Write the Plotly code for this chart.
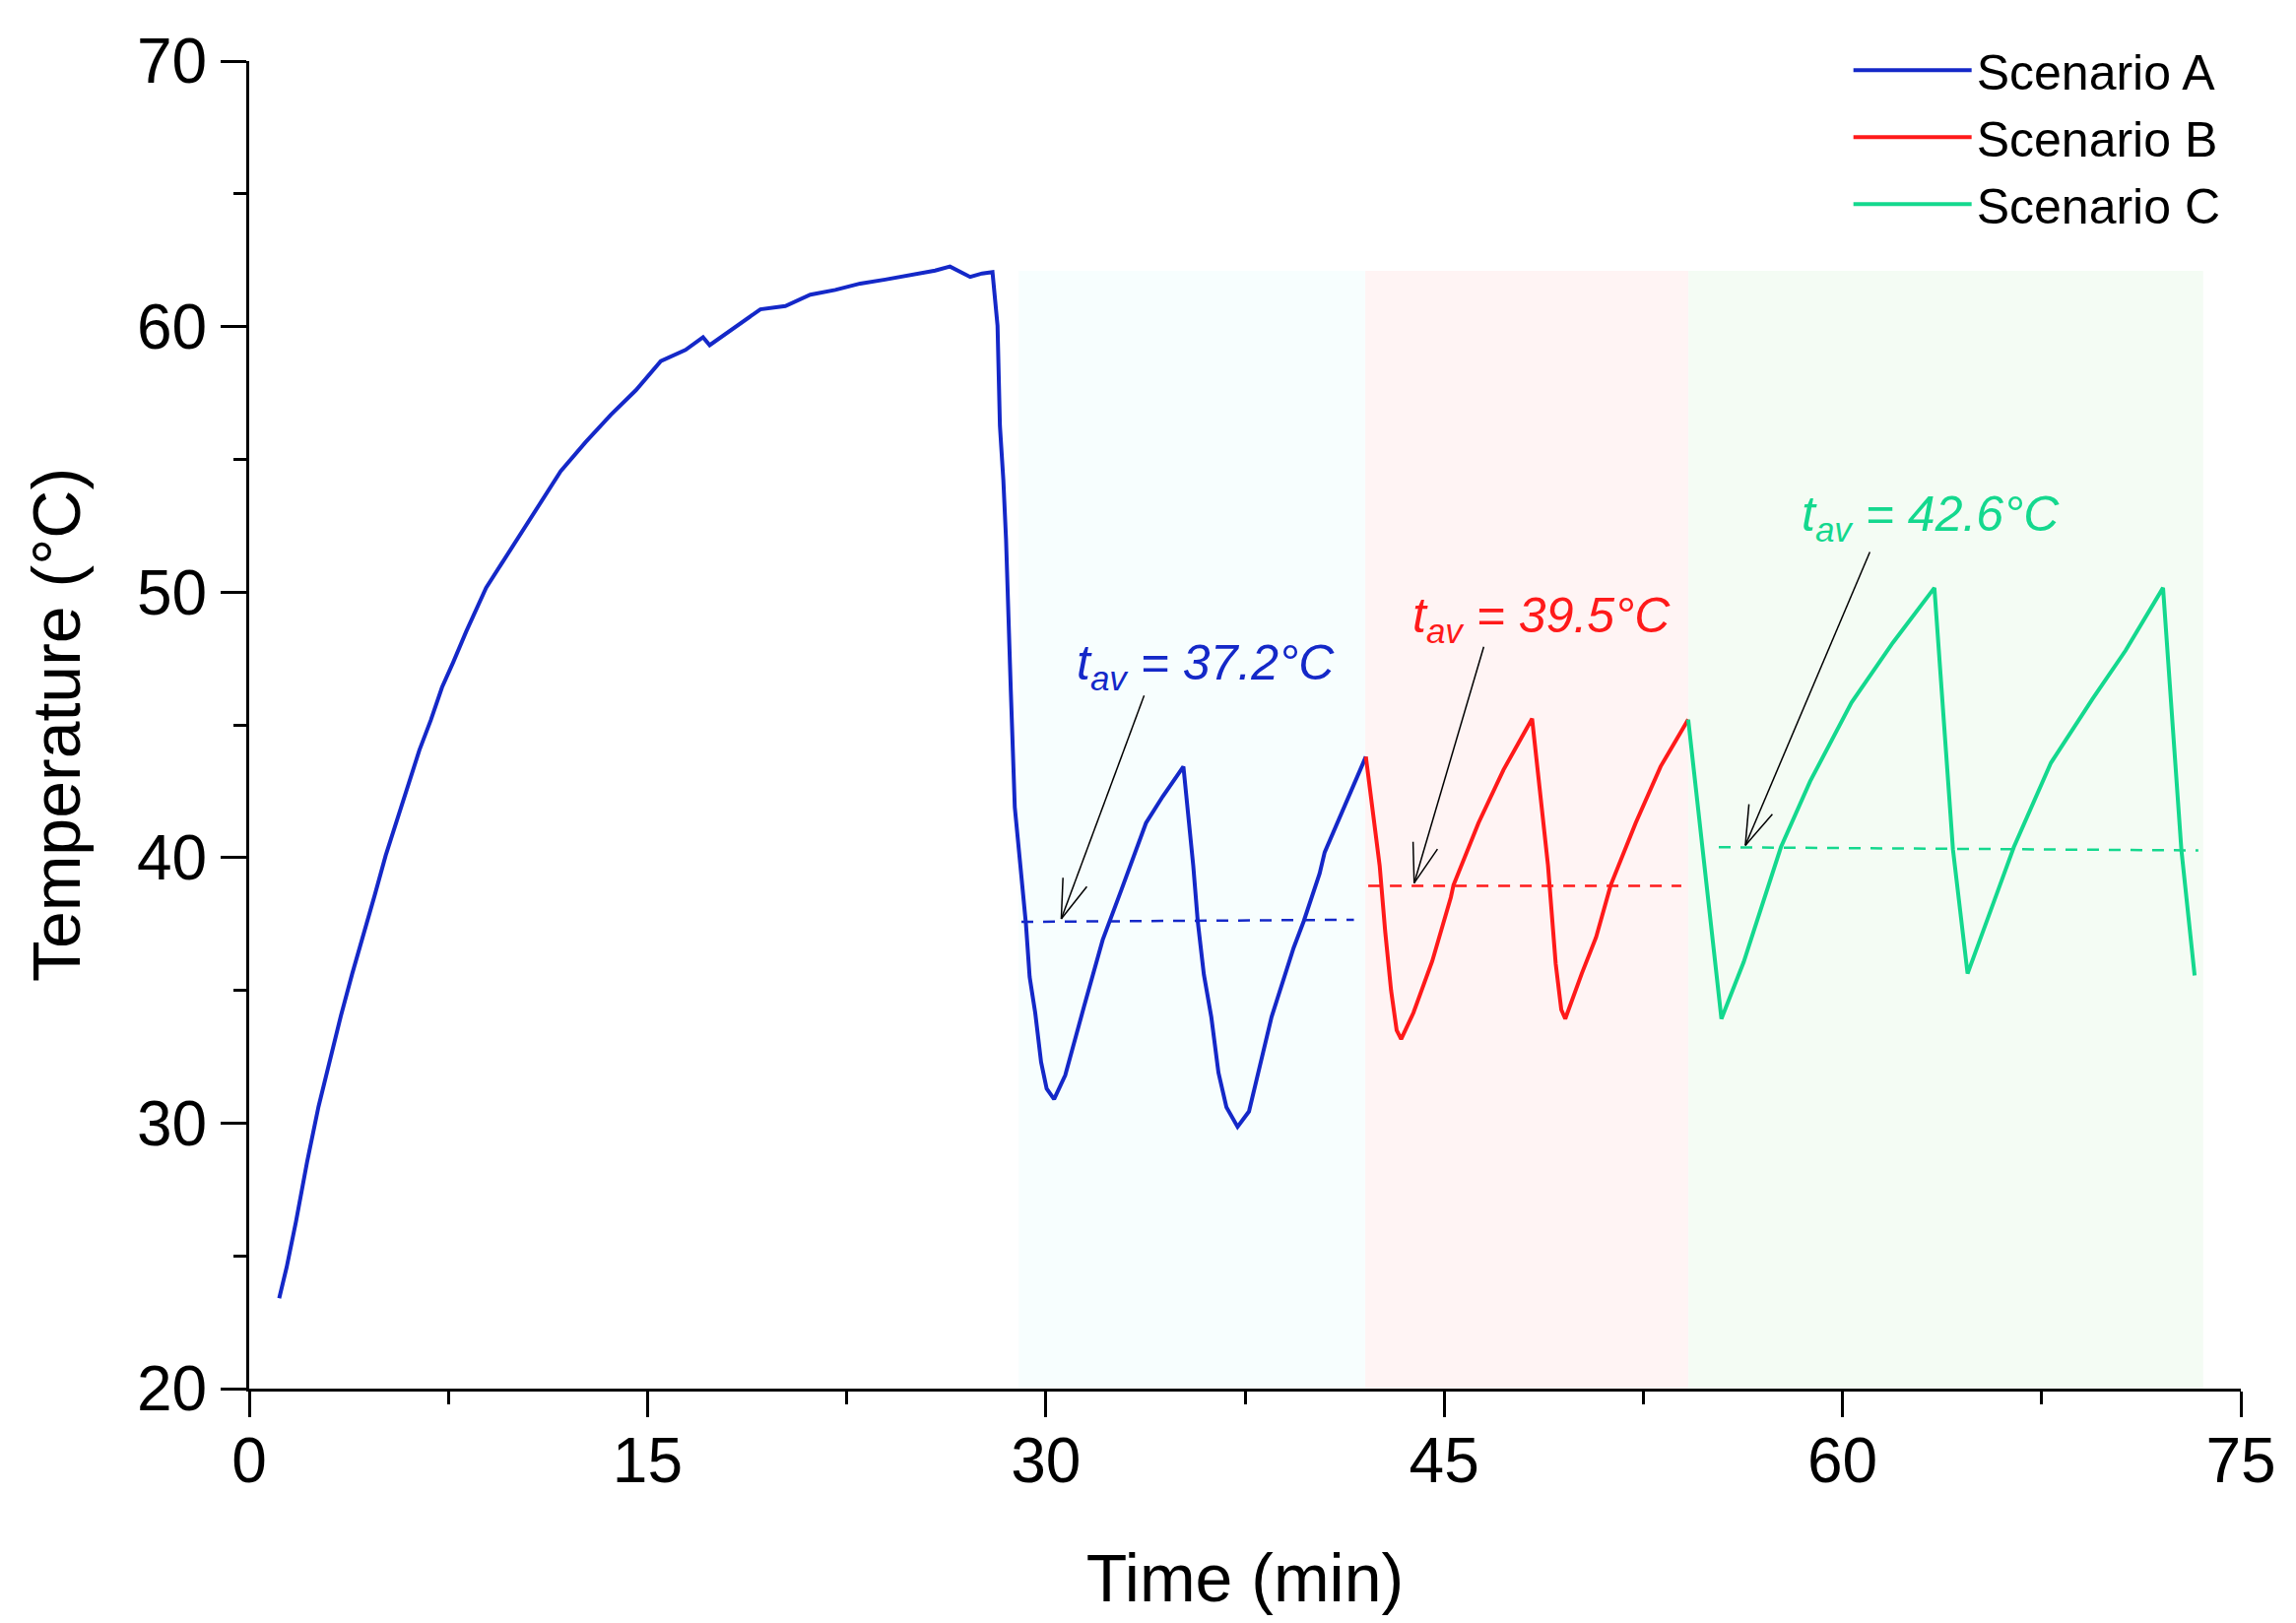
"""
Temperature vs time for three cooling scenarios (A, B, C) with average-temperature markers.
"""

import math
import plotly.graph_objects as go

# --- data ------------------------------------------------------------------
time_a = [1.13, 1.41, 1.76, 2.18, 2.61, 3.03, 3.45, 3.88, 4.30, 4.72, 5.14,
          5.57, 5.99, 6.41, 6.84, 7.26, 7.68, 8.17, 8.92, 9.86, 10.80, 11.73,
          12.67, 13.62, 14.56, 15.50, 16.43, 17.09, 17.34, 18.31, 19.25, 20.19,
          21.13, 22.07, 23.01, 23.95, 24.89, 25.83, 26.39, 27.15, 27.6, 27.99,
          28.18, 28.27, 28.40, 28.50, 28.68, 28.83, 29.04,
          29.25, 29.39, 29.6, 29.82, 30.03, 30.31, 30.73, 31.44, 32.14,
          32.85, 33.77, 34.4, 35.18, 35.55, 35.72, 35.95, 36.23, 36.5, 36.8,
          37.22, 37.65, 38.5, 39.33, 39.71, 40.31, 40.5, 41.27, 42.05]
temp_a = [23.4, 24.57, 26.28, 28.54, 30.62, 32.33, 34.03, 35.63, 37.05, 38.56, 40.08,
          41.4, 42.72, 44.05, 45.18, 46.41, 47.35, 48.51, 50.16, 51.62, 53.09, 54.55,
          55.65, 56.68, 57.6, 58.7, 59.12, 59.6, 59.3, 59.98, 60.65, 60.77,
          61.2, 61.38, 61.62, 61.77, 61.93, 62.11, 62.26, 61.87, 62.0, 62.05,
          60.04, 56.26, 54.2, 52.0, 46.3, 41.9, 39.7,
          37.5, 35.5, 34.15, 32.3, 31.3, 30.9, 31.8, 34.4, 36.9,
          38.8, 41.3, 42.3, 43.43, 39.7, 37.6, 35.6, 34.0, 31.9, 30.6,
          29.86, 30.44, 34.0, 36.6, 37.6, 39.4, 40.2, 42.0, 43.8]

time_b = [42.05, 42.57, 42.78, 43.0, 43.21, 43.38, 43.84, 44.55, 45.25, 45.35,
          46.29, 47.23, 48.31, 48.91, 49.2, 49.41, 49.56, 50.18, 50.72, 51.27,
          52.21, 53.15, 54.19]
temp_b = [43.8, 39.7, 37.2, 35.0, 33.5, 33.16, 34.15, 36.1, 38.5, 38.96,
          41.3, 43.3, 45.23, 39.7, 36.0, 34.27, 33.93, 35.63, 37.0, 38.96,
          41.3, 43.43, 45.2]

time_c = [54.19, 55.44, 56.28, 57.68, 58.78, 60.34, 61.9, 63.46, 64.16, 64.71,
          66.45, 67.85, 69.41, 70.66, 72.07, 72.76, 73.26]
temp_c = [45.2, 33.93, 36.07, 40.39, 42.87, 45.84, 48.1, 50.16, 40.3, 35.63,
          40.39, 43.57, 45.97, 47.8, 50.16, 40.3, 35.56]

# average (dashed) lines: start, end, level
avg_x0 = [29.08, 42.14, 55.34]
avg_x1 = [41.6, 53.93, 73.4]
avg_y0 = [37.58, 38.94, 40.39]
avg_y1 = [37.66, 38.94, 40.27]

# shaded scenario windows
band_x0 = [28.98, 42.03, 54.2]
band_x1 = [42.03, 54.2, 73.58]
band_top = 62.1

# labels and arrows
labels = ["37.2°C", "39.5°C", "42.6°C"]
label_x = [36.03, 48.68, 63.3]
label_y = [47.2, 49.0, 52.8]
arrow_tail_x = [33.7, 46.49, 61.03]
arrow_tail_y = [46.1, 47.94, 51.51]
arrow_tip_x = [30.58, 43.87, 56.34]
arrow_tip_y = [37.69, 39.04, 40.46]

names = ["Scenario A", "Scenario B", "Scenario C"]
colors = ["#1428c8", "#ff1a1a", "#14d88e"]
band_colors = ["#f7fefe", "#fff4f4", "#f4fcf4"]

# page body has an 8px margin, so the figure is kept 16px smaller than the window
W, H = 2315, 1632
M = dict(l=245, r=40, t=54, b=228)
X_RANGE = [0, 75]
Y_RANGE = [20, 70]
FONT = "Liberation Sans, Arial, sans-serif"

fig = go.Figure()

series = [(time_a, temp_a), (time_b, temp_b), (time_c, temp_c)]
for (tx, ty), name, col in zip(series, names, colors):
    fig.add_trace(go.Scatter(x=tx, y=ty, mode="lines", name=name,
                             line=dict(color=col, width=4)))

for i in range(3):
    fig.add_trace(go.Scatter(x=[avg_x0[i], avg_x1[i]], y=[avg_y0[i], avg_y1[i]],
                             mode="lines", showlegend=False, hoverinfo="skip",
                             line=dict(color=colors[i], width=2.5, dash="12px,10px")))
    fig.add_shape(type="rect", xref="x", yref="y", x0=band_x0[i], x1=band_x1[i],
                  y0=Y_RANGE[0], y1=band_top, fillcolor=band_colors[i],
                  line_width=0, layer="below")

# arrows: shaft + two thin barbs, built in pixel space so the head stays symmetric
px_x = (W - M["l"] - M["r"]) / (X_RANGE[1] - X_RANGE[0])
px_y = (H - M["t"] - M["b"]) / (Y_RANGE[1] - Y_RANGE[0])
barb_len, barb_ang = 42, math.radians(18)
for i in range(3):
    dx = (arrow_tail_x[i] - arrow_tip_x[i]) * px_x
    dy = (arrow_tail_y[i] - arrow_tip_y[i]) * px_y
    ang = math.atan2(dy, dx)
    ax, ay = [arrow_tail_x[i], arrow_tip_x[i]], [arrow_tail_y[i], arrow_tip_y[i]]
    for s in (-1, 1):
        a = ang + s * barb_ang
        ax += [None, arrow_tip_x[i], arrow_tip_x[i] + barb_len * math.cos(a) / px_x]
        ay += [None, arrow_tip_y[i], arrow_tip_y[i] + barb_len * math.sin(a) / px_y]
    fig.add_trace(go.Scatter(x=ax, y=ay, mode="lines", showlegend=False,
                             hoverinfo="skip", line=dict(color="black", width=1.5)))
    fig.add_annotation(x=label_x[i], y=label_y[i], xref="x", yref="y",
                       text=f"<i>t</i><sub><i>av</i></sub><i> = {labels[i]}</i>",
                       showarrow=False, font=dict(size=50, color=colors[i], family=FONT))

axis_common = dict(showline=True, linecolor="black", linewidth=3, mirror=False,
                   ticks="outside", tickwidth=3, ticklen=26, tickcolor="black",
                   showgrid=False, zeroline=False,
                   tickfont=dict(size=64, color="black", family=FONT))

fig.update_xaxes(range=X_RANGE, dtick=15, tick0=0, ticklabelstandoff=-11,
                 minor=dict(dtick=7.5, ticks="outside", ticklen=13, tickwidth=3,
                            tickcolor="black"),
                 title=dict(text="Time (min)", font=dict(size=68, color="black", family=FONT),
                            standoff=62),
                 **axis_common)
fig.update_yaxes(range=Y_RANGE, dtick=10, tick0=20, ticklabelstandoff=1,
                 minor=dict(dtick=5, ticks="outside", ticklen=13, tickwidth=3,
                            tickcolor="black"),
                 title=dict(text="Temperature (°C)", font=dict(size=68, color="black", family=FONT),
                            standoff=36),
                 **axis_common)

fig.update_layout(
    width=W, height=H,
    margin=M,
    plot_bgcolor="white",
    paper_bgcolor="white",
    font=dict(family=FONT, color="black"),
    showlegend=True,
    legend=dict(x=0.803, y=1.022, xanchor="left", yanchor="top",
                bgcolor="rgba(0,0,0,0)", itemwidth=120, tracegroupgap=0,
                font=dict(size=50, color="black", family=FONT)),
)

fig.write_html("out.html")
